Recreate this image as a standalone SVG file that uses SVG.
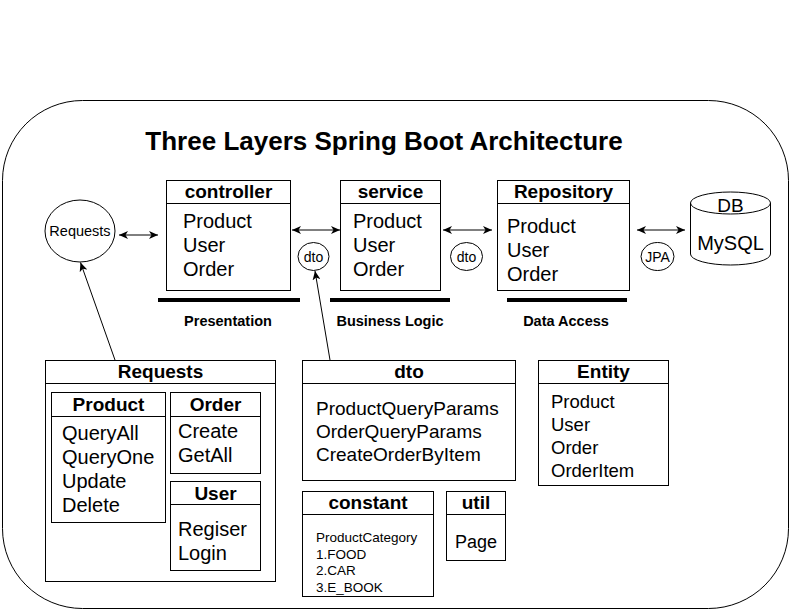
<svg xmlns="http://www.w3.org/2000/svg" width="791" height="611" viewBox="0 0 791 611">
<style>
text{font-family:"Liberation Sans",Arial,Helvetica,sans-serif;fill:#000}
.b{font-weight:bold}
.box{fill:#fff;stroke:#000;stroke-width:1}
.hl{stroke:#000;stroke-width:1}
.hd{font-weight:bold;font-size:19px;text-anchor:middle}
.it{font-size:20px}
.bar{stroke:#000;stroke-width:4}
.lab{font-weight:bold;font-size:14.5px;text-anchor:middle}
.con{stroke:#000;stroke-width:1;fill:none}
.cl{font-size:14px;text-anchor:middle}
</style>
<defs>
<marker id="ae" markerUnits="userSpaceOnUse" markerWidth="10" markerHeight="8" refX="9" refY="4" orient="auto">
<path d="M0,0 L9,4 L0,8 L2.5,4 Z" fill="#000"/>
</marker>
<marker id="as" markerUnits="userSpaceOnUse" markerWidth="10" markerHeight="8" refX="1" refY="4" orient="auto">
<path d="M10,0 L1,4 L10,8 L7.5,4 Z" fill="#000"/>
</marker>
</defs>
<rect x="2.5" y="100.5" width="786" height="508" rx="80" ry="80" fill="#fff" stroke="#000"/>
<text x="384" y="150" class="b" font-size="26" text-anchor="middle">Three Layers Spring Boot Architecture</text>

<g id="requests-circle">
<ellipse cx="80" cy="231" rx="35" ry="31" class="box"/>
<text x="80" y="236" font-size="14.5" text-anchor="middle">Requests</text>
</g>

<g id="controller">
<rect x="166.5" y="180.5" width="124" height="110" class="box"/>
<line x1="166.5" y1="203.5" x2="290.5" y2="203.5" class="hl"/>
<text x="228.5" y="198" class="hd">controller</text>
<text x="183" y="228" class="it">Product</text>
<text x="183" y="252" class="it">User</text>
<text x="183" y="276" class="it">Order</text>
</g>

<g id="service">
<rect x="340.5" y="180.5" width="100" height="110" class="box"/>
<line x1="340.5" y1="203.5" x2="440.5" y2="203.5" class="hl"/>
<text x="390.5" y="198" class="hd">service</text>
<text x="353" y="228" class="it">Product</text>
<text x="353" y="252" class="it">User</text>
<text x="353" y="276" class="it">Order</text>
</g>

<g id="repository">
<rect x="497.5" y="180.5" width="132" height="110" class="box"/>
<line x1="497.5" y1="203.5" x2="629.5" y2="203.5" class="hl"/>
<text x="563.5" y="198" class="hd">Repository</text>
<text x="507" y="233" class="it">Product</text>
<text x="507" y="257" class="it">User</text>
<text x="507" y="281" class="it">Order</text>
</g>

<g id="db">
<path d="M690.5,203 L690.5,254 A40,11 0 0 0 770.5,254 L770.5,203 A40,11 0 0 0 690.5,203 A40,11 0 0 0 770.5,203" class="box"/>
<text x="730.5" y="212" font-size="19" text-anchor="middle">DB</text>
<text x="730.5" y="250" font-size="20" text-anchor="middle">MySQL</text>
</g>

<g id="dto-circle-1">
<ellipse cx="313.5" cy="256.5" rx="15.5" ry="14" class="box"/>
<text x="313.5" y="261.5" class="cl">dto</text>
</g>
<g id="dto-circle-2">
<ellipse cx="466.5" cy="256.5" rx="16" ry="14" class="box"/>
<text x="466.5" y="261.5" class="cl">dto</text>
</g>
<g id="jpa-circle">
<ellipse cx="657.5" cy="256.5" rx="16.5" ry="14" class="box"/>
<text x="657.5" y="261.5" class="cl">JPA</text>
</g>

<g id="layer-bars">
<line x1="158" y1="300" x2="300" y2="300" class="bar"/>
<line x1="330" y1="300" x2="450" y2="300" class="bar"/>
<line x1="507" y1="300" x2="627" y2="300" class="bar"/>
<text x="228" y="326" class="lab">Presentation</text>
<text x="390" y="326" class="lab">Business Logic</text>
<text x="566" y="326" class="lab">Data Access</text>
</g>

<g id="requests-box">
<rect x="45.5" y="360.5" width="230" height="221" class="box"/>
<line x1="45.5" y1="383.5" x2="275.5" y2="383.5" class="hl"/>
<text x="160.5" y="378" class="hd">Requests</text>
<g id="req-product">
<rect x="51.5" y="392.5" width="114" height="130" class="box"/>
<line x1="51.5" y1="416.5" x2="165.5" y2="416.5" class="hl"/>
<text x="108.5" y="411" class="hd">Product</text>
<text x="62" y="440" class="it">QueryAll</text>
<text x="62" y="464" class="it">QueryOne</text>
<text x="62" y="488" class="it">Update</text>
<text x="62" y="512" class="it">Delete</text>
</g>
<g id="req-order">
<rect x="170.5" y="392.5" width="90" height="81" class="box"/>
<line x1="170.5" y1="416.5" x2="260.5" y2="416.5" class="hl"/>
<text x="215.5" y="411" class="hd">Order</text>
<text x="178" y="438" class="it">Create</text>
<text x="178" y="462" class="it">GetAll</text>
</g>
<g id="req-user">
<rect x="170.5" y="481.5" width="90" height="89" class="box"/>
<line x1="170.5" y1="504.5" x2="260.5" y2="504.5" class="hl"/>
<text x="215.5" y="500" class="hd">User</text>
<text x="178" y="536" class="it">Regiser</text>
<text x="178" y="560" class="it">Login</text>
</g>
</g>

<g id="dto-box">
<rect x="302.5" y="360.5" width="213" height="120" class="box"/>
<line x1="302.5" y1="383.5" x2="515.5" y2="383.5" class="hl"/>
<text x="409" y="378" class="hd">dto</text>
<text x="316" y="415" font-size="19">ProductQueryParams</text>
<text x="316" y="438" font-size="19">OrderQueryParams</text>
<text x="316" y="461" font-size="19">CreateOrderByItem</text>
</g>

<g id="entity">
<rect x="538.5" y="360.5" width="130" height="125" class="box"/>
<line x1="538.5" y1="383.5" x2="668.5" y2="383.5" class="hl"/>
<text x="603.5" y="378" class="hd">Entity</text>
<text x="551" y="408" font-size="18.5">Product</text>
<text x="551" y="431" font-size="18.5">User</text>
<text x="551" y="454" font-size="18.5">Order</text>
<text x="551" y="477" font-size="18.5">OrderItem</text>
</g>

<g id="constant">
<rect x="302.5" y="491.5" width="131" height="105" class="box"/>
<line x1="302.5" y1="514.5" x2="433.5" y2="514.5" class="hl"/>
<text x="368" y="509" class="hd">constant</text>
<text x="316" y="542" font-size="13.5">ProductCategory</text>
<text x="316" y="559" font-size="13.5">1.FOOD</text>
<text x="316" y="575" font-size="13.5">2.CAR</text>
<text x="316" y="592" font-size="13.5">3.E_BOOK</text>
</g>

<g id="util">
<rect x="446.5" y="491.5" width="59" height="69" class="box"/>
<line x1="446.5" y1="514.5" x2="505.5" y2="514.5" class="hl"/>
<text x="476" y="509" class="hd">util</text>
<text x="476" y="548" font-size="18" text-anchor="middle">Page</text>
</g>

<g id="connectors">
<line x1="119" y1="235" x2="158" y2="235" class="con" marker-start="url(#as)" marker-end="url(#ae)"/>
<line x1="292" y1="230" x2="340" y2="230" class="con" marker-start="url(#as)" marker-end="url(#ae)"/>
<line x1="443" y1="230" x2="492" y2="230" class="con" marker-start="url(#as)" marker-end="url(#ae)"/>
<line x1="637" y1="230" x2="685" y2="230" class="con" marker-start="url(#as)" marker-end="url(#ae)"/>
<line x1="115" y1="360" x2="80.5" y2="262.5" class="con" marker-end="url(#ae)"/>
<line x1="330" y1="360" x2="315" y2="271" class="con" marker-end="url(#ae)"/>
</g>
</svg>
